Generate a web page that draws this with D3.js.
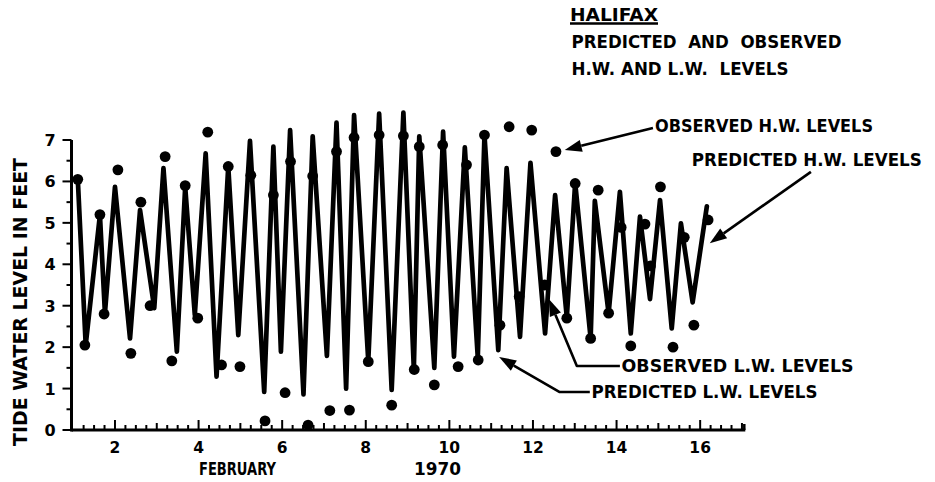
<!DOCTYPE html>
<html><head><meta charset="utf-8">
<script src="https://cdn.jsdelivr.net/npm/d3@7"></script>
<style>
html,body{margin:0;padding:0;background:#fff;}
svg{display:block;}
text{font-family:"DejaVu Sans","Liberation Sans",sans-serif;font-weight:bold;fill:#000;}
</style></head>
<body><svg id="c" width="935" height="482"></svg>
<script>
// ---- data (day of February 1970, level in feet) ----
const predDay = [1.11,1.30,1.64,1.76,2.00,2.36,2.60,2.94,3.16,3.48,3.68,3.91,4.17,4.43,4.71,4.95,5.23,5.57,5.79,5.97,6.19,6.51,6.73,7.07,7.30,7.53,7.72,8.06,8.32,8.62,8.90,9.15,9.28,9.64,9.85,10.11,10.37,10.68,10.84,11.17,11.37,11.69,11.94,12.29,12.53,12.81,13.01,13.38,13.48,13.81,14.08,14.34,14.56,14.80,15.04,15.32,15.54,15.82,16.16];
const predFt  = [6.07,2.05,5.19,2.82,5.87,2.21,5.31,2.94,6.32,1.89,5.87,2.78,6.68,1.29,6.36,2.29,6.98,0.92,6.84,1.89,7.24,0.86,7.09,1.79,7.42,1.00,7.60,1.66,7.64,0.97,7.66,1.47,7.09,1.50,7.20,1.77,6.82,1.75,7.12,1.93,6.32,2.25,6.45,2.33,5.67,2.72,5.97,2.21,5.53,2.82,5.75,2.33,5.15,3.16,5.55,2.45,4.99,3.08,5.40];
const obsDay = [1.11,1.28,1.64,1.74,2.07,2.38,2.62,2.84,3.20,3.36,3.68,3.98,4.22,4.55,4.71,4.99,5.25,5.59,5.79,6.07,6.20,6.62,6.73,7.14,7.30,7.61,7.72,8.06,8.32,8.62,8.90,9.16,9.28,9.64,9.84,10.21,10.41,10.69,10.84,11.21,11.43,11.67,11.97,12.28,12.55,12.81,13.01,13.38,13.56,13.81,14.11,14.34,14.68,14.81,15.05,15.35,15.62,15.85,16.19];
const obsFt  = [6.05,2.05,5.20,2.80,6.28,1.85,5.50,3.00,6.60,1.67,5.90,2.70,7.19,1.57,6.36,1.53,6.15,0.22,5.67,0.90,6.48,0.12,6.13,0.47,6.72,0.48,7.06,1.65,7.12,0.60,7.10,1.46,6.84,1.09,6.88,1.53,6.40,1.69,7.12,2.53,7.32,3.22,7.24,3.50,6.72,2.70,5.95,2.21,5.79,2.82,4.89,2.03,4.97,3.96,5.87,2.00,4.65,2.53,5.07];
const yTickValues = [0,1,2,3,4,5,6,7];
const xTickLabels = [2,4,6,8,10,12,14,16];
const titleLines = ["HALIFAX","PREDICTED  AND  OBSERVED","H.W. AND L.W.  LEVELS"];
const yTitle = "TIDE WATER LEVEL IN FEET";
const xTitle = ["FEBRUARY","1970"];

// annotations, positioned in data units (day, feet)
const notes = [
  {text:"OBSERVED H.W. LEVELS",  at:[14.92,7.20], len:218, path:[[14.87,7.29],[12.76,6.76]]},
  {text:"PREDICTED H.W. LEVELS", at:[15.80,6.37], len:230, path:[[18.65,6.23],[16.23,4.51]]},
  {text:"OBSERVED L.W. LEVELS",  at:[14.12,1.41], len:232, path:[[14.08,1.545],[13.05,1.545],[12.38,3.16]]},
  {text:"PREDICTED L.W. LEVELS", at:[13.40,0.765], len:226, path:[[13.36,0.917],[12.64,0.917],[11.19,1.76]]}
];

const svg = d3.select("#c");
const x = d3.scaleLinear().domain([0.96,17.08]).range([71.5,745.3]);
const y = d3.scaleLinear().domain([0,7]).range([430,140]);

// ---- title ----
const tl = svg.append("g");
tl.append("text").attr("x",570).attr("y",20.5).attr("font-size",18).attr("textLength",88).attr("lengthAdjust","spacingAndGlyphs").text(titleLines[0]);
tl.append("line").attr("x1",570).attr("x2",658).attr("y1",23.5).attr("y2",23.5).attr("stroke","#000").attr("stroke-width",2.5);
tl.append("text").attr("x",571.5).attr("y",47.5).attr("font-size",17.5).attr("textLength",270).attr("lengthAdjust","spacingAndGlyphs").attr("xml:space","preserve").text(titleLines[1]);
tl.append("text").attr("x",571.5).attr("y",75).attr("font-size",17.5).attr("textLength",217).attr("lengthAdjust","spacingAndGlyphs").attr("xml:space","preserve").text(titleLines[2]);

// ---- axes ----
const ax = svg.append("g").attr("stroke","#000").attr("stroke-linecap","butt");
ax.append("line").attr("x1",x.range()[0]).attr("x2",x.range()[1]).attr("y1",y(0)).attr("y2",y(0)).attr("stroke-width",3);
ax.append("line").attr("x1",x.range()[0]).attr("x2",x.range()[0]).attr("y1",y(0)+1.5).attr("y2",y(7)).attr("stroke-width",3);
// x minor ticks (every 6 hours), pointing up
const qTicks = d3.range(Math.ceil(x.domain()[0]*4), Math.floor(x.domain()[1]*4)+1).map(v=>v/4).filter(v=>v>1);
ax.selectAll(".xt").data(qTicks).join("line")
  .attr("x1",d=>x(d)).attr("x2",d=>x(d)).attr("y1",y(0))
  .attr("y2",d=> d%2===0 ? y(0)-10 : (d%1===0 ? y(0)-7 : y(0)-5))
  .attr("stroke-width",2);
ax.append("line").attr("x1",x.range()[1]-1).attr("x2",x.range()[1]-1).attr("y1",y(0)).attr("y2",y(0)-6).attr("stroke-width",2.5);
// y ticks (integers long, halves short), pointing left
const hTicks = d3.range(0,15).map(v=>v/2);
ax.selectAll(".yt").data(hTicks).join("line")
  .attr("x1",x.range()[0]).attr("x2",d=> d%1===0 ? x.range()[0]-9 : x.range()[0]-5)
  .attr("y1",d=>y(d)).attr("y2",d=>y(d)).attr("stroke-width",2);

svg.append("g").selectAll("text").data(yTickValues).join("text")
  .attr("x",50).attr("y",d=>y(d)+6).attr("text-anchor","middle").attr("font-size",16).text(d=>d);
svg.append("g").selectAll("text").data(xTickLabels).join("text")
  .attr("x",d=>x(d)).attr("y",453).attr("text-anchor","middle").attr("font-size",15.5).text(d=>d);

svg.append("text").attr("transform","translate(26.5,302) rotate(-90)").attr("text-anchor","middle")
  .attr("font-size",19).attr("textLength",288).attr("lengthAdjust","spacingAndGlyphs").text(yTitle);
svg.append("text").attr("x",199).attr("y",475).attr("font-size",17).attr("textLength",77).attr("lengthAdjust","spacingAndGlyphs").text(xTitle[0]);
svg.append("text").attr("x",414).attr("y",475).attr("font-size",17).attr("textLength",47).attr("lengthAdjust","spacingAndGlyphs").text(xTitle[1]);

// ---- predicted line ----
const pred = predDay.map((d,i)=>[d,predFt[i]]);
svg.append("path").datum(pred)
  .attr("d", d3.line().x(d=>x(d[0])).y(d=>y(d[1])))
  .attr("fill","none").attr("stroke","#000").attr("stroke-width",4.7).attr("stroke-linejoin","round").attr("stroke-linecap","round");

// ---- observed dots ----
const obs = obsDay.map((d,i)=>[d,obsFt[i]]);
svg.append("g").selectAll("circle").data(obs).join("circle")
  .attr("cx",d=>x(d[0])).attr("cy",d=>y(d[1])).attr("r",5.4).attr("fill","#000");

// ---- annotations ----
const ng = svg.append("g");
notes.forEach(n=>{
  ng.append("text").attr("x",x(n.at[0])).attr("y",y(n.at[1])).attr("font-size",17)
    .attr("textLength",n.len).attr("lengthAdjust","spacingAndGlyphs").attr("xml:space","preserve").text(n.text);
  const pts = n.path.map(p=>[x(p[0]),y(p[1])]);
  const a = pts[pts.length-2], b = pts[pts.length-1];
  const ang = Math.atan2(b[1]-a[1], b[0]-a[0]);
  const L = 17, W = 6;
  const base = [b[0]-L*Math.cos(ang), b[1]-L*Math.sin(ang)];
  const linePts = pts.slice(0,-1).concat([base]);
  ng.append("path").attr("d", d3.line()(linePts)).attr("fill","none").attr("stroke","#000").attr("stroke-width",2.6).attr("stroke-linejoin","round");
  const p1 = [base[0]+W*Math.sin(ang), base[1]-W*Math.cos(ang)];
  const p2 = [base[0]-W*Math.sin(ang), base[1]+W*Math.cos(ang)];
  ng.append("path").attr("d", d3.line()([b,p1,p2])+"Z").attr("fill","#000");
});
</script></body></html>
